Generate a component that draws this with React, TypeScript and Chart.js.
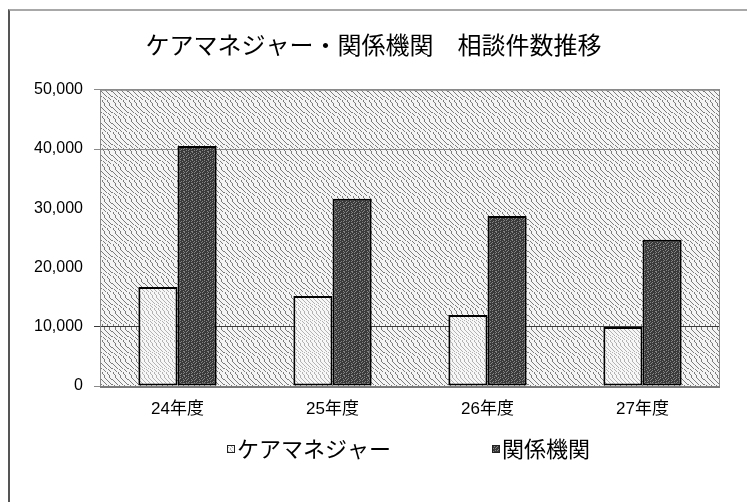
import React, { useEffect, useRef } from "react";
import { Chart, registerables } from "chart.js";

Chart.register(...registerables);

const TITLE = "ケアマネジャー・関係機関　相談件数推移";
const CATEGORIES = ["24年度", "25年度", "26年度", "27年度"];
const SERIES_NAMES = ["ケアマネジャー", "関係機関"];
const CARE_MANAGER = [16700, 15200, 12000, 9950];
const AGENCIES = [40500, 31600, 28700, 24700];
const Y_TICK_LABELS = ["0", "10,000", "20,000", "30,000", "40,000", "50,000"];

const W = 747;
const H = 502;
const FONT = "'Liberation Sans', 'Noto Sans CJK JP', sans-serif";
const JFONT = "'Noto Sans CJK JP', 'Liberation Sans', sans-serif";

// wavy diagonal texture tile (style only)
function makeWavyTile(size: number, period: number, on: string, off: string, amp: number): HTMLCanvasElement {
  const c = document.createElement("canvas");
  c.width = size;
  c.height = size;
  const g = c.getContext("2d")!;
  g.fillStyle = off;
  g.fillRect(0, 0, size, size);
  g.fillStyle = on;
  for (let y = 0; y < size; y++) {
    const w = Math.round(amp * Math.sin((2 * Math.PI * y) / size));
    for (let x = 0; x < size; x++) {
      if ((((x - y - w) % period) + period * 10) % period === 0) g.fillRect(x, y, 1, 1);
    }
  }
  return c;
}

function makeDarkTile(): HTMLCanvasElement {
  const rows = [
    "X...X...",
    "..X...X.",
    ".X..X...",
    "...X...X",
    "X.X.....",
    ".....X.X",
    "..X.X...",
    "X......X",
  ];
  const c = document.createElement("canvas");
  c.width = 8;
  c.height = 8;
  const g = c.getContext("2d")!;
  g.fillStyle = "#3a3a3a";
  g.fillRect(0, 0, 8, 8);
  g.fillStyle = "#858585";
  rows.forEach((r, y) => {
    for (let x = 0; x < r.length; x++) if (r[x] === "X") g.fillRect(x, y, 1, 1);
  });
  return c;
}

function makeMarker(fill: CanvasPattern, width: number): HTMLCanvasElement {
  const c = document.createElement("canvas");
  c.width = width;
  c.height = 10;
  const g = c.getContext("2d")!;
  const s = 8;
  const x0 = width - s;
  g.fillStyle = fill;
  g.fillRect(x0, 1, s, s);
  g.strokeStyle = "#222";
  g.lineWidth = 1;
  g.strokeRect(x0 + 0.5, 1.5, s - 1, s - 1);
  return c;
}

export default function App() {
  const ref = useRef<HTMLCanvasElement | null>(null);

  useEffect(() => {
    const canvas = ref.current!;
    const ctx = canvas.getContext("2d")!;
    const bgPat = ctx.createPattern(makeWavyTile(16, 5, "#7c7c7c", "#f4f4f4", 1.5), "repeat")!;
    const lightPat = ctx.createPattern(makeWavyTile(16, 4, "#b2b2b2", "#f7f7f7", 1.5), "repeat")!;
    const darkPat = ctx.createPattern(makeDarkTile(), "repeat")!;
    const markers = [makeMarker(lightPat, 87), makeMarker(darkPat, 87)];

    const plotBg = {
      id: "plotBg",
      beforeDraw(chart: any) {
        const { ctx: c, chartArea: a } = chart;
        c.save();
        c.fillStyle = bgPat;
        c.fillRect(a.left, a.top, a.right - a.left, a.bottom - a.top);
        c.restore();
      },
      beforeDatasetsDraw(chart: any) {
        const { ctx: c, chartArea: a } = chart;
        c.save();
        c.strokeStyle = "#8a8a8a";
        c.lineWidth = 1;
        c.strokeRect(a.left + 0.5, a.top + 0.5, a.right - a.left - 1, a.bottom - a.top);
        c.strokeStyle = "#7a7a7a";
        c.lineWidth = 2;
        c.beginPath();
        c.moveTo(a.left, a.bottom + 1);
        c.lineTo(a.right, a.bottom + 1);
        c.stroke();
        c.restore();
      },
    };

    const gridColor = (c: any) => {
      const v = c.tick ? c.tick.value : null;
      if (v === 10000) return "#3a3a3a";
      if (v === 40000 || v === 0 || v === 50000) return "#8a8a8a";
      return "rgba(0,0,0,0)";
    };

    const chart = new Chart(canvas, {
      type: "bar",
      data: {
        labels: CATEGORIES,
        datasets: [
          {
            label: SERIES_NAMES[0],
            data: CARE_MANAGER,
            backgroundColor: lightPat,
            borderColor: "#000",
            borderWidth: 2,
            borderSkipped: false,
          },
          {
            label: SERIES_NAMES[1],
            data: AGENCIES,
            backgroundColor: darkPat,
            borderColor: "#000",
            borderWidth: 2,
            borderSkipped: false,
          },
        ],
      },
      options: {
        responsive: false,
        animation: false,
        devicePixelRatio: 1,
        layout: { padding: { top: 0, left: 0, right: 0, bottom: 32 } },
        datasets: { bar: { barPercentage: 1, categoryPercentage: 0.505 } },
        plugins: {
          tooltip: { enabled: false },
          title: {
            display: true,
            text: TITLE,
            color: "#000",
            font: { family: JFONT, size: 24, weight: "normal" },
            padding: { top: 30, bottom: 31 },
          },
          legend: {
            display: true,
            position: "bottom",
            labels: {
              usePointStyle: true,
              pointStyleWidth: 69,
              padding: 31,
              color: "#000",
              font: { family: JFONT, size: 22 },
              generateLabels: () =>
                SERIES_NAMES.map((name, i) => ({
                  text: name,
                  datasetIndex: i,
                  pointStyle: markers[i],
                  fillStyle: "rgba(0,0,0,0)",
                  strokeStyle: "rgba(0,0,0,0)",
                  lineWidth: 0,
                  hidden: false,
                  fontColor: "#000",
                })),
            },
          },
        },
        scales: {
          x: {
            grid: { display: false, drawTicks: false },
            border: { display: false },
            ticks: {
              color: "#000",
              mirror: true,
              padding: -34,
              font: { family: FONT, size: 17 },
            },
            afterFit: (s: any) => {
              s.height = 21;
            },
          },
          y: {
            min: 0,
            max: 50000,
            grid: { color: gridColor, tickColor: gridColor, tickLength: 6, lineWidth: 1 },
            border: { display: false },
            ticks: {
              stepSize: 10000,
              color: "#000",
              padding: 11,
              font: { family: FONT, size: 16 },
              callback: (_v: any, i: number) => Y_TICK_LABELS[i],
            },
            afterFit: (s: any) => {
              s.width = 100;
            },
          },
          yRight: {
            position: "right",
            display: true,
            grid: { display: false, drawTicks: false },
            border: { display: false },
            ticks: { display: false },
            afterFit: (s: any) => {
              s.width = 27;
            },
          },
        },
      },
      plugins: [plotBg],
    });
    return () => chart.destroy();
  }, []);

  return (
    <div style={{ position: "fixed", left: 0, top: 0, width: W, height: H, overflow: "hidden", background: "#fff" }}>
      <div
        style={{
          position: "absolute",
          left: 8,
          top: 9,
          width: 820,
          height: 600,
          borderTop: "2px solid #a8a8a8",
          borderLeft: "2px solid #555",
        }}
      />
      <canvas ref={ref} width={W} height={H} style={{ position: "absolute", left: 0, top: 0, width: W, height: H }} />
    </div>
  );
}
